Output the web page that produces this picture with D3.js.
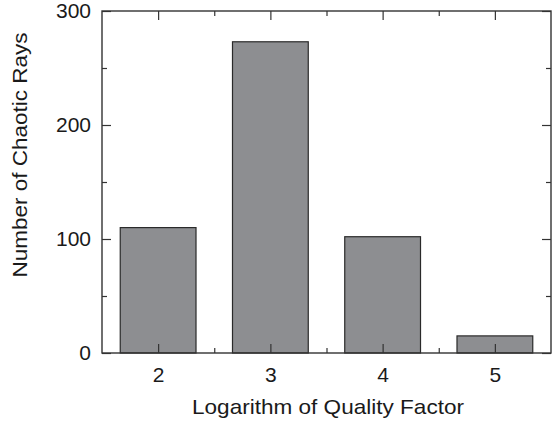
<!DOCTYPE html>
<html>
<head>
<meta charset="utf-8">
<script src="https://cdn.jsdelivr.net/npm/d3@7"></script>
<style>
  body { margin: 0; background: #fff; }
  svg text { font-family: "Liberation Sans", Arial, sans-serif; fill: #1a1a1a; }
</style>
</head>
<body>
<div id="app"></div>
<script>
// data
var categories = [2, 3, 4, 5];
var counts = [110, 273, 102, 15];
var yTicks = [0, 100, 200, 300];
var yMinor = [50, 150, 250];
var xMinor = [2.5, 3.5, 4.5];

var W = 552, H = 426;
var margin = {left: 102, top: 11, right: 1, bottom: 73};
var width = W - margin.left - margin.right,
    height = H - margin.top - margin.bottom;

var svg = d3.select("#app").append("svg")
    .attr("width", W)
    .attr("height", H);

var g = svg.append("g")
    .attr("transform", "translate(" + margin.left + "," + margin.top + ")");

var x = d3.scaleLinear().domain([1.5, 5.5]).range([0, width]);
var y = d3.scaleLinear().domain([0, 300]).range([height, 0]);

var barW = 0.675;

// bars
g.selectAll(".bar")
  .data(categories)
  .enter()
  .append("rect")
    .attr("class", "bar")
    .attr("x", function(d) { return x(d - barW / 2); })
    .attr("width", function(d) { return x(d + barW / 2) - x(d - barW / 2); })
    .attr("y", function(d, i) { return y(counts[i]); })
    .attr("height", function(d, i) { return height - y(counts[i]); })
    .attr("fill", "#8d8e91")
    .attr("stroke", "#2a2a2a")
    .attr("stroke-width", 1.2);

// ticks, all pointing inward
function tickStyle(sel) {
  sel.select(".domain").remove();
  sel.attr("font-size", null).attr("font-family", null);
  sel.selectAll("line").attr("stroke", "#333").attr("stroke-width", 1.2);
  sel.selectAll("text").style("font-size", "21px").attr("fill", "#1a1a1a");
}

g.append("g").attr("transform", "translate(0," + height + ")")
  .call(d3.axisBottom(x).tickValues(categories).tickFormat(d3.format("d")).tickSizeInner(-9).tickPadding(14))
  .call(tickStyle);
g.append("g").attr("transform", "translate(0," + height + ")")
  .call(d3.axisBottom(x).tickValues(xMinor).tickFormat("").tickSizeInner(-5))
  .call(tickStyle);
g.append("g")
  .call(d3.axisTop(x).tickValues(categories).tickFormat("").tickSizeInner(-9))
  .call(tickStyle);
g.append("g")
  .call(d3.axisTop(x).tickValues(xMinor).tickFormat("").tickSizeInner(-5))
  .call(tickStyle);

g.append("g")
  .call(d3.axisLeft(y).tickValues(yTicks).tickSizeInner(-9).tickPadding(11))
  .call(tickStyle);
g.append("g")
  .call(d3.axisLeft(y).tickValues(yMinor).tickFormat("").tickSizeInner(-5))
  .call(tickStyle);
g.append("g").attr("transform", "translate(" + width + ",0)")
  .call(d3.axisRight(y).tickValues(yTicks).tickFormat("").tickSizeInner(-9))
  .call(tickStyle);
g.append("g").attr("transform", "translate(" + width + ",0)")
  .call(d3.axisRight(y).tickValues(yMinor).tickFormat("").tickSizeInner(-5))
  .call(tickStyle);

// frame
g.append("rect")
  .attr("width", width)
  .attr("height", height)
  .attr("fill", "none")
  .attr("stroke", "#333")
  .attr("stroke-width", 1.4);

// axis titles
svg.append("text")
  .attr("x", 328)
  .attr("y", 414)
  .attr("text-anchor", "middle")
  .attr("textLength", 272)
  .attr("lengthAdjust", "spacingAndGlyphs")
  .style("font-size", "21px")
  .text("Logarithm of Quality Factor");

svg.append("text")
  .attr("transform", "translate(27,155) rotate(-90)")
  .attr("text-anchor", "middle")
  .attr("textLength", 245)
  .attr("lengthAdjust", "spacingAndGlyphs")
  .style("font-size", "21px")
  .text("Number of Chaotic Rays");
</script>
</body>
</html>
